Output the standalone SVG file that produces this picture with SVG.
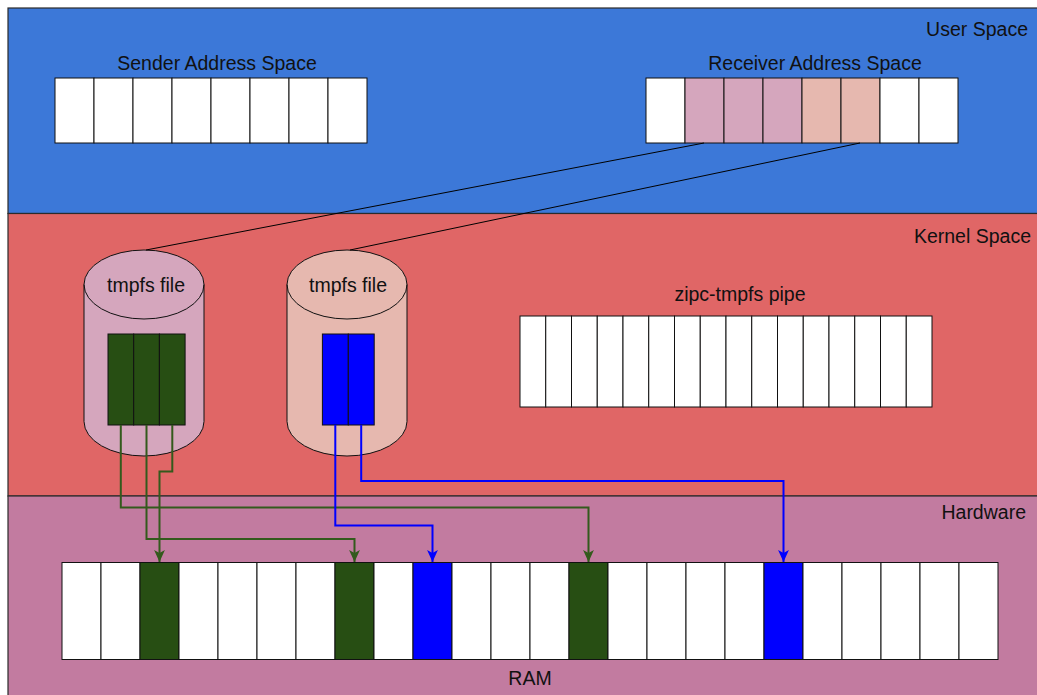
<svg xmlns="http://www.w3.org/2000/svg" width="1037" height="695" viewBox="0 0 1037 695">
<style>
.band{stroke:#2b2b2b;stroke-width:1.2}
.cell{fill:#ffffff;stroke:#111;stroke-width:1}
.lbl{font-family:"Liberation Sans",Arial,sans-serif;font-size:19.5px;fill:#111}
.c{text-anchor:middle}
.r{text-anchor:end}
.cyl{stroke:#111;stroke-width:1}
.gline{fill:none;stroke:#335a1c;stroke-width:2}
.bline{fill:none;stroke:#0000ff;stroke-width:2}
.kline{fill:none;stroke:#000;stroke-width:1}
</style>
<defs>
<marker id="ag" markerUnits="userSpaceOnUse" markerWidth="12" markerHeight="12" refX="10" refY="5" orient="auto" viewBox="0 0 10 10">
<path d="M0,0.5 L10,5 L0,9.5 L2.5,5 Z" fill="#335a1c"/>
</marker>
<marker id="ab" markerUnits="userSpaceOnUse" markerWidth="12" markerHeight="12" refX="10" refY="5" orient="auto" viewBox="0 0 10 10">
<path d="M0,0.5 L10,5 L0,9.5 L2.5,5 Z" fill="#0000ff"/>
</marker>
</defs>

<g id="user-space">
<rect class="band" x="8" y="8" width="1040" height="205.5" fill="#3c78d8"/>
<text class="lbl r" x="1028" y="36">User Space</text>
</g>
<g id="kernel-space">
<rect class="band" x="8" y="213.5" width="1040" height="282.5" fill="#e06666"/>
<text class="lbl r" x="1031" y="243">Kernel Space</text>
</g>
<g id="hardware">
<rect class="band" x="8" y="496" width="1040" height="210" fill="#c27ba0"/>
<text class="lbl r" x="1026" y="519">Hardware</text>
</g>

<g id="sender">
<text class="lbl c" x="217" y="70">Sender Address Space</text>
<rect class="cell" x="55" y="78" width="39" height="65"/>
<rect class="cell" x="94" y="78" width="39" height="65"/>
<rect class="cell" x="133" y="78" width="39" height="65"/>
<rect class="cell" x="172" y="78" width="39" height="65"/>
<rect class="cell" x="211" y="78" width="39" height="65"/>
<rect class="cell" x="250" y="78" width="39" height="65"/>
<rect class="cell" x="289" y="78" width="39" height="65"/>
<rect class="cell" x="328" y="78" width="39" height="65"/>
</g>

<g id="receiver">
<text class="lbl c" x="815" y="70">Receiver Address Space</text>
<rect class="cell" x="646" y="78" width="39" height="65"/>
<rect class="cell" x="685" y="78" width="39" height="65" style="fill:#d5a6bd"/>
<rect class="cell" x="724" y="78" width="39" height="65" style="fill:#d5a6bd"/>
<rect class="cell" x="763" y="78" width="39" height="65" style="fill:#d5a6bd"/>
<rect class="cell" x="802" y="78" width="39" height="65" style="fill:#e6b8af"/>
<rect class="cell" x="841" y="78" width="39" height="65" style="fill:#e6b8af"/>
<rect class="cell" x="880" y="78" width="39" height="65"/>
<rect class="cell" x="919" y="78" width="39" height="65"/>
</g>

<g id="tmpfs-file-1">
<path class="cyl" fill="#d5a6bd" d="M84,284.5 A60,34.5 0 0 1 204,284.5 L204,421.5 A60,34.5 0 0 1 84,421.5 Z"/>
<path class="cyl" fill="none" d="M84,284.5 A60,34.5 0 0 0 204,284.5"/>
<text class="lbl c" x="146" y="292">tmpfs file</text>
<rect class="cell" x="108" y="334" width="25.7" height="91" style="fill:#274e13"/>
<rect class="cell" x="133.7" y="334" width="25.7" height="91" style="fill:#274e13"/>
<rect class="cell" x="159.4" y="334" width="25.7" height="91" style="fill:#274e13"/>
</g>

<g id="tmpfs-file-2">
<path class="cyl" fill="#e6b8af" d="M287,284.5 A60,34.5 0 0 1 407,284.5 L407,421.5 A60,34.5 0 0 1 287,421.5 Z"/>
<path class="cyl" fill="none" d="M287,284.5 A60,34.5 0 0 0 407,284.5"/>
<text class="lbl c" x="348" y="292">tmpfs file</text>
<rect class="cell" x="322.4" y="334" width="25.9" height="91" style="fill:#0000ff"/>
<rect class="cell" x="348.3" y="334" width="25.9" height="91" style="fill:#0000ff"/>
</g>

<g id="pipe">
<text class="lbl c" x="740" y="301">zipc-tmpfs pipe</text>
<rect class="cell" x="520" y="316" width="25.75" height="91"/>
<rect class="cell" x="545.75" y="316" width="25.75" height="91"/>
<rect class="cell" x="571.5" y="316" width="25.75" height="91"/>
<rect class="cell" x="597.25" y="316" width="25.75" height="91"/>
<rect class="cell" x="623" y="316" width="25.75" height="91"/>
<rect class="cell" x="648.75" y="316" width="25.75" height="91"/>
<rect class="cell" x="674.5" y="316" width="25.75" height="91"/>
<rect class="cell" x="700.25" y="316" width="25.75" height="91"/>
<rect class="cell" x="726" y="316" width="25.75" height="91"/>
<rect class="cell" x="751.75" y="316" width="25.75" height="91"/>
<rect class="cell" x="777.5" y="316" width="25.75" height="91"/>
<rect class="cell" x="803.25" y="316" width="25.75" height="91"/>
<rect class="cell" x="829" y="316" width="25.75" height="91"/>
<rect class="cell" x="854.75" y="316" width="25.75" height="91"/>
<rect class="cell" x="880.5" y="316" width="25.75" height="91"/>
<rect class="cell" x="906.25" y="316" width="25.75" height="91"/>
</g>

<g id="ram">
<rect class="cell" x="62" y="562.5" width="39" height="97"/>
<rect class="cell" x="101" y="562.5" width="39" height="97"/>
<rect class="cell" x="140" y="562.5" width="39" height="97" style="fill:#274e13"/>
<rect class="cell" x="179" y="562.5" width="39" height="97"/>
<rect class="cell" x="218" y="562.5" width="39" height="97"/>
<rect class="cell" x="257" y="562.5" width="39" height="97"/>
<rect class="cell" x="296" y="562.5" width="39" height="97"/>
<rect class="cell" x="335" y="562.5" width="39" height="97" style="fill:#274e13"/>
<rect class="cell" x="374" y="562.5" width="39" height="97"/>
<rect class="cell" x="413" y="562.5" width="39" height="97" style="fill:#0000ff"/>
<rect class="cell" x="452" y="562.5" width="39" height="97"/>
<rect class="cell" x="491" y="562.5" width="39" height="97"/>
<rect class="cell" x="530" y="562.5" width="39" height="97"/>
<rect class="cell" x="569" y="562.5" width="39" height="97" style="fill:#274e13"/>
<rect class="cell" x="608" y="562.5" width="39" height="97"/>
<rect class="cell" x="647" y="562.5" width="39" height="97"/>
<rect class="cell" x="686" y="562.5" width="39" height="97"/>
<rect class="cell" x="725" y="562.5" width="39" height="97"/>
<rect class="cell" x="764" y="562.5" width="39" height="97" style="fill:#0000ff"/>
<rect class="cell" x="803" y="562.5" width="39" height="97"/>
<rect class="cell" x="842" y="562.5" width="39" height="97"/>
<rect class="cell" x="881" y="562.5" width="39" height="97"/>
<rect class="cell" x="920" y="562.5" width="39" height="97"/>
<rect class="cell" x="959" y="562.5" width="39" height="97"/>
<text class="lbl c" x="530" y="685">RAM</text>
</g>

<g id="connectors">
<path class="kline" d="M704,143 L146,250"/>
<path class="kline" d="M860,143 L350,250"/>
<path class="gline" marker-end="url(#ag)" d="M120.8,425 V507.5 H588.5 V562"/>
<path class="gline" marker-end="url(#ag)" d="M146.5,425 V539 H354.5 V562"/>
<path class="gline" marker-end="url(#ag)" d="M172.3,425 V471.5 H159.5 V562"/>
<path class="bline" marker-end="url(#ab)" d="M335.3,425 V525.5 H432.5 V562"/>
<path class="bline" marker-end="url(#ab)" d="M361.2,425 V481 H783.5 V562"/>
</g>
</svg>
